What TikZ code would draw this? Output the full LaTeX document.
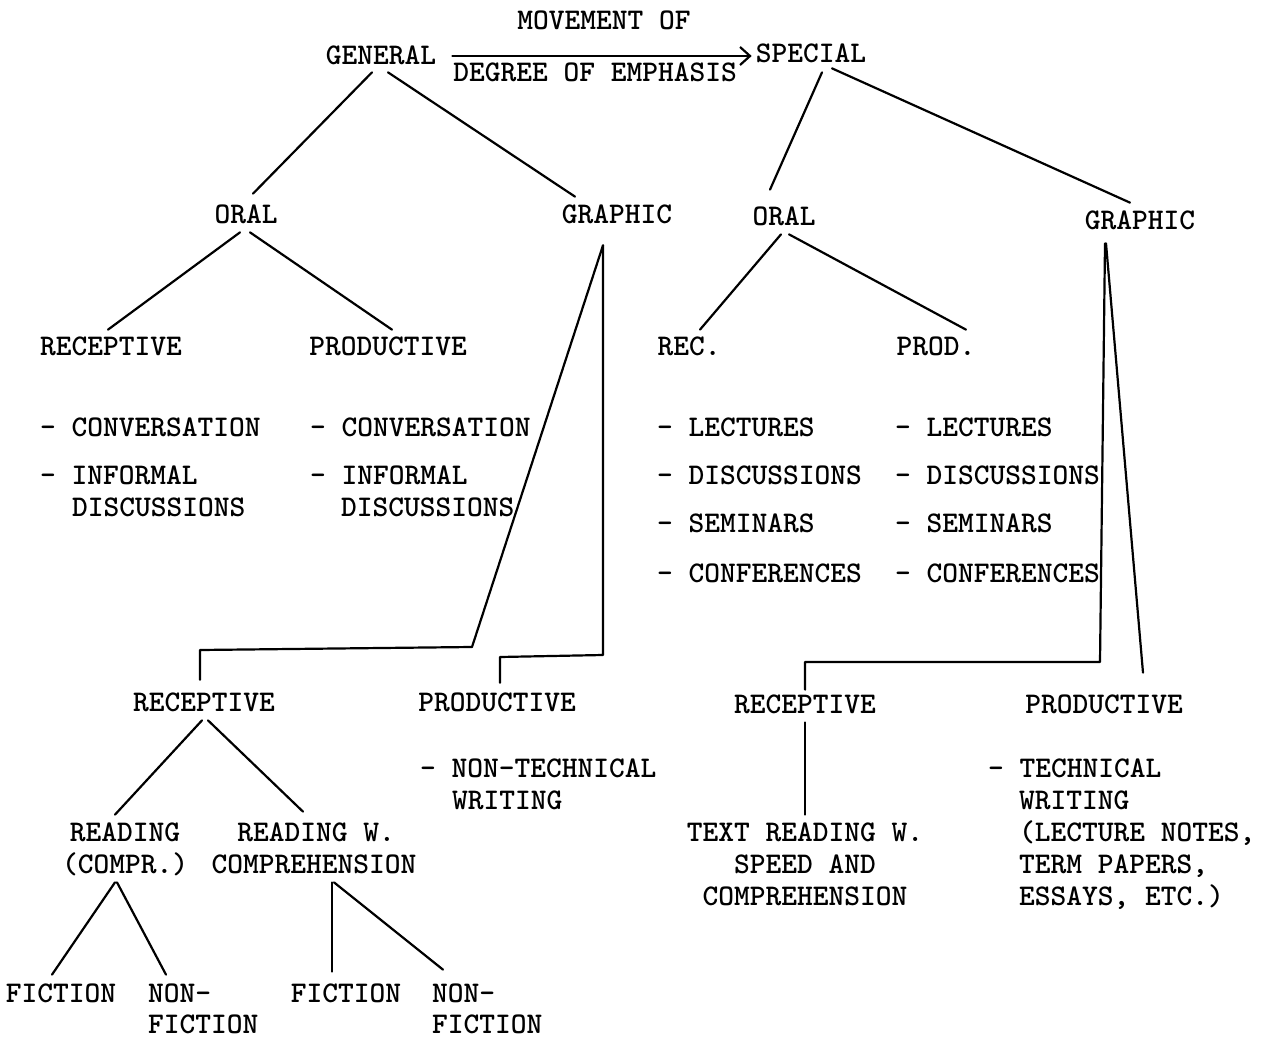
\documentclass[tikz,border=0pt]{standalone}
\usepackage{fontspec}
\usetikzlibrary{calc,arrows.meta}
\begin{document}
\begin{tikzpicture}[x=1pt,y=-1pt,
  lbl/.style={font=\ttfamily\bfseries\fontsize{30}{32}\selectfont, inner sep=0pt, text height=18.3pt, text depth=0pt},
  itm/.style={lbl, anchor=west},
  conn/.style={line width=2.2pt, line cap=round, line join=round}]
\fill[white] (0,0) rectangle (1269,1038);
\useasboundingbox (0,0) rectangle (1269,1038);
% top
\node[lbl] (mov) at (604,20) {MOVEMENT OF};
\node[lbl] (gen) at (381,55) {GENERAL};
\node[lbl] (spec) at (811,53) {SPECIAL};
\node[lbl] (deg) at (595,72) {DEGREE OF EMPHASIS};
% level 2
\node[lbl] (oralL) at (246,214) {ORAL};
\node[lbl] (graphL) at (617,214) {GRAPHIC};
\node[lbl] (oralR) at (784,216) {ORAL};
\node[lbl] (graphR) at (1140,220) {GRAPHIC};
% level 3
\node[lbl] (recL) at (111,346) {RECEPTIVE};
\node[lbl] (prodL) at (388,346) {PRODUCTIVE};
\node[lbl] (rec) at (689,346) {REC.};
\node[lbl] (prod) at (936,346) {PROD.};
% lists
\node[itm] (l1) at (40,427) {- CONVERSATION};
\node[itm] (l2) at (40,475) {- INFORMAL};
\node[itm] (l3) at (72,507) {DISCUSSIONS};
\node[itm] (m1) at (310,427) {- CONVERSATION};
\node[itm] (m2) at (310,475) {- INFORMAL};
\node[itm] (m3) at (341,507) {DISCUSSIONS};
\node[itm] (r1) at (657,427) {- LECTURES};
\node[itm] (r2) at (657,475) {- DISCUSSIONS};
\node[itm] (r3) at (657,523) {- SEMINARS};
\node[itm] (r4) at (657,573) {- CONFERENCES};
\node[itm] (s1) at (895,427) {- LECTURES};
\node[itm] (s2) at (895,475) {- DISCUSSIONS};
\node[itm] (s3) at (895,523) {- SEMINARS};
\node[itm] (s4) at (895,573) {- CONFERENCES};
% level 4
\node[lbl] (recB) at (204,702) {RECEPTIVE};
\node[lbl] (prodB) at (497,702) {PRODUCTIVE};
\node[lbl] (recB2) at (805,704) {RECEPTIVE};
\node[lbl] (prodB2) at (1104,704) {PRODUCTIVE};
\node[itm] (nt1) at (420,768) {- NON-TECHNICAL};
\node[itm] (nt2) at (452,800) {WRITING};
\node[itm] (t1) at (988,768) {- TECHNICAL};
\node[itm] (t2) at (1019,800) {WRITING};
\node[itm] (t3) at (1019,832) {(LECTURE NOTES,};
\node[itm] (t4) at (1019,864) {TERM PAPERS,};
\node[itm] (t5) at (1019,896) {ESSAYS, ETC.)};
\node[lbl] (tr1) at (805,832) {TEXT READING W.};
\node[lbl] (tr2) at (805,864) {SPEED AND};
\node[lbl] (tr3) at (805,896) {COMPREHENSION};
% reading
\node[lbl] (rd1) at (125,832) {READING};
\node[lbl] (rd2) at (125,864) {(COMPR.)};
\node[lbl] (rw1) at (316,832) {READING W.};
\node[lbl] (rw2) at (314,864) {COMPREHENSION};
\node[lbl] (f1) at (61,993) {FICTION};
\node[itm] (n1) at (148,993) {NON-};
\node[itm] (n1b) at (148,1024) {FICTION};
\node[lbl] (f2) at (346,993) {FICTION};
\node[itm] (n2) at (432,993) {NON-};
\node[itm] (n2b) at (432,1024) {FICTION};
% connectors
\draw[conn,-{Straight Barb[length=10pt,width=18pt,line width=2.2pt]}] ($(gen.east)+(16,1)$) -- ($(spec.west)+(-4,3)$);
\draw[conn] ($(gen.south)+(-9,8)$) -- ($(oralL.north)+(7,-11)$);
\draw[conn] ($(gen.south)+(7,8)$) -- ($(graphL.north)+(-42,-8)$);
\draw[conn] ($(spec.south)+(11,10)$) -- ($(oralR.north)+(-14,-17)$);
\draw[conn] ($(spec.south)+(21,6)$) -- ($(graphR.north)+(-10,-8)$);
\draw[conn] ($(oralL.south)+(-6,9)$) -- ($(recL.north)+(-3,-7)$);
\draw[conn] ($(oralL.south)+(4,9)$) -- ($(prodL.north)+(4,-7)$);
\draw[conn] ($(oralR.south)+(-3,9)$) -- ($(rec.north)+(11,-7)$);
\draw[conn] ($(oralR.south)+(5,9)$) -- ($(prod.north)+(30,-7)$);
\draw[conn] ($(graphL.south)+(-14,22)$) -- (472,647) -- (200,650) -- ($(recB.north)+(-4,-13)$);
\draw[conn] ($(graphL.south)+(-14,22)$) -- (603,655) -- (500,657) -- ($(prodB.north)+(3,-10)$);
\draw[conn] ($(graphR.south)+(-35,14)$) -- (1100,662) -- (805,662) -- ($(recB2.north)+(0,-5)$);
\draw[conn] ($(graphR.south)+(-34,14)$) -- ($(prodB2.north)+(39,-22)$);
\draw[conn] ($(recB2.south)+(0,9)$) -- ($(tr1.north)+(0,-8)$);
\draw[conn] ($(recB.south)+(-2,9)$) -- ($(rd1.north)+(-10,-8)$);
\draw[conn] ($(recB.south)+(4,9)$) -- ($(rw1.north)+(-13,-11)$);
\draw[conn] ($(rd2.south)+(-10,9)$) -- ($(f1.north)+(-9,-9)$);
\draw[conn] ($(rd2.south)+(-8,9)$) -- ($(n1.north west)+(18,-9)$);
\draw[conn] ($(rw2.south)+(18,9)$) -- ($(f2.north)+(-14,-12)$);
\draw[conn] ($(rw2.south)+(20,9)$) -- ($(n2.north west)+(11,-14)$);
\end{tikzpicture}
\end{document}
